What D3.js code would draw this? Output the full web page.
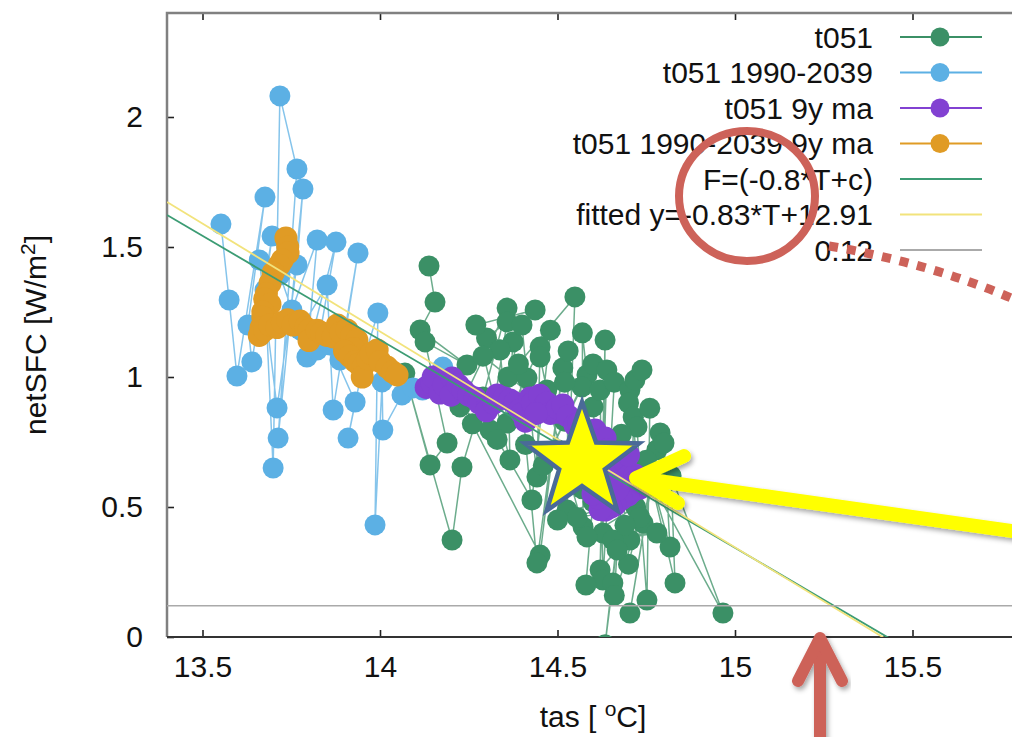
<!DOCTYPE html>
<html>
<head>
<meta charset="utf-8">
<script src="https://cdn.jsdelivr.net/npm/d3@7"></script>
<style>
  body { margin: 0; background: #fff; }
  svg { display: block; }
  text { font-family: "Liberation Sans", Arial, Helvetica, sans-serif; fill: #111; }
</style>
</head>
<body>
<svg id="chart" width="1012" height="737"></svg>
<script>
// t051 yearly values [tas, netSFC]
const t051 = [
  [14.138, 1.427], [14.155, 1.288], [14.113, 1.181], [14.245, 1.046], [14.127, 1.135],
  [14.189, 0.746], [14.141, 0.662], [14.07, 1.015], [14.203, 0.373], [14.231, 0.654],
  [14.29, 0.923], [14.358, 1.265], [14.225, 0.885], [14.31, 0.796], [14.358, 1.212],
  [14.3, 1.15], [14.375, 1.135], [14.358, 0.823], [14.338, 1.104], [14.437, 1.258],
  [14.27, 1.2], [14.366, 0.681], [14.361, 1.0], [14.4, 1.2], [14.414, 0.996],
  [14.442, 0.615], [14.451, 1.115], [14.33, 0.76], [14.428, 0.527], [14.48, 1.18],
  [14.451, 1.077], [14.47, 0.95], [14.26, 0.82], [14.451, 0.315], [14.515, 1.035],
  [14.442, 0.285], [14.39, 1.05], [14.549, 1.308], [14.527, 0.488], [14.53, 1.1],
  [14.47, 0.912], [14.572, 0.423], [14.57, 1.17], [14.583, 1.008], [14.46, 0.66],
  [14.569, 0.962], [14.6, 1.05], [14.6, 0.885], [14.628, 0.4], [14.634, 1.142],
  [14.62, 0.258], [14.639, 1.027], [14.52, 0.98], [14.62, 0.95], [14.628, 0.219],
  [14.66, 0.98], [14.704, 0.95], [14.656, 0.208], [14.634, -0.03], [14.718, 0.988],
  [14.704, 0.373], [14.7, 0.9], [14.738, 1.027], [14.713, 0.846], [14.752, 0.142],
  [14.76, 0.88], [14.724, 0.808], [14.741, 0.438], [14.789, 0.785], [14.704, 0.092],
  [14.78, 0.72], [14.8, 0.746], [14.817, 0.346], [14.75, 0.68], [14.831, 0.208],
  [14.82, 0.62], [14.966, 0.092], [14.77, 0.58], [14.555, 0.46], [14.72, 0.5],
  [14.583, 0.385], [14.78, 0.4], [14.656, 0.373], [14.7, 0.28], [14.732, 0.46],
  [14.66, 0.16], [14.668, 0.335], [14.58, 0.2], [14.6, 0.52], [14.5, 0.45],
  [14.55, 0.62], [14.41, 0.74], [14.5, 0.72], [14.57, 0.57], [14.62, 0.68],
  [14.63, 0.6], [14.68, 0.78], [14.69, 0.43], [14.52, 0.83], [14.29, 1.08]
];

// t051 1990-2039 yearly values
const t051Early = [
  [13.552, 1.588], [13.575, 1.296], [13.597, 1.004], [13.676, 1.692], [13.628, 1.2],
  [13.639, 1.058], [13.696, 1.542], [13.676, 1.335], [13.699, 0.65], [13.718, 2.081],
  [13.766, 1.8], [13.713, 0.765], [13.783, 1.723], [13.766, 1.431], [13.71, 0.881],
  [13.66, 1.45], [13.718, 1.392], [13.752, 1.258], [13.823, 1.527], [13.794, 1.077],
  [13.876, 1.519], [13.823, 1.104], [13.775, 1.181], [13.851, 1.354], [13.868, 0.873],
  [13.938, 1.477], [13.887, 1.065], [13.859, 1.123], [13.93, 0.904], [13.91, 0.765],
  [13.958, 1.085], [13.994, 1.246], [13.986, 0.431], [14.006, 0.981], [14.008, 0.796],
  [14.062, 0.931], [14.093, 0.958], [14.12, 0.95], [14.177, 1.038]
];

// 9-year moving averages
const t051Ma = [
  [14.13, 0.96], [14.146, 0.977], [14.15, 1.0], [14.169, 0.938], [14.18, 0.97],
  [14.203, 0.996], [14.2, 0.93], [14.22, 0.97], [14.234, 0.95], [14.25, 0.93],
  [14.268, 0.919], [14.28, 0.9], [14.304, 0.892], [14.3, 0.87], [14.32, 0.9],
  [14.33, 0.931], [14.35, 0.92], [14.366, 0.912], [14.38, 0.9], [14.394, 0.873],
  [14.4, 0.86], [14.41, 0.83], [14.423, 0.919], [14.43, 0.9], [14.45, 0.93],
  [14.465, 0.892], [14.47, 0.9], [14.48, 0.86], [14.493, 0.865], [14.5, 0.88],
  [14.515, 0.892], [14.53, 0.85], [14.549, 0.815], [14.56, 0.82], [14.577, 0.758],
  [14.58, 0.78], [14.606, 0.796], [14.6, 0.76], [14.62, 0.74], [14.634, 0.765],
  [14.64, 0.72], [14.654, 0.7], [14.66, 0.68], [14.68, 0.64], [14.69, 0.673],
  [14.7, 0.62], [14.718, 0.623], [14.72, 0.6], [14.732, 0.573], [14.71, 0.56],
  [14.699, 0.546], [14.68, 0.53], [14.662, 0.508], [14.65, 0.5], [14.634, 0.488],
  [14.62, 0.49], [14.614, 0.535], [14.6, 0.55], [14.592, 0.642], [14.563, 0.7],
  [14.64, 0.6], [14.67, 0.57], [14.61, 0.64], [14.7, 0.7], [14.44, 0.86]
];

const t051EarlyMa = [
  [13.735, 1.535], [13.74, 1.5], [13.741, 1.477], [13.725, 1.45], [13.716, 1.43],
  [13.699, 1.4], [13.69, 1.36], [13.68, 1.32], [13.675, 1.3], [13.69, 1.28],
  [13.67, 1.25], [13.67, 1.23], [13.665, 1.19], [13.66, 1.16], [13.675, 1.18],
  [13.69, 1.2], [13.71, 1.19], [13.725, 1.21], [13.74, 1.22], [13.755, 1.2],
  [13.775, 1.215], [13.79, 1.19], [13.8, 1.18], [13.8, 1.14], [13.823, 1.18],
  [13.835, 1.17], [13.85, 1.16], [13.868, 1.154], [13.88, 1.2], [13.89, 1.17],
  [13.907, 1.181], [13.92, 1.16], [13.935, 1.142], [13.925, 1.11], [13.9, 1.1],
  [13.915, 1.08], [13.93, 1.06], [13.94, 1.05], [13.952, 1.038], [13.95, 1.0],
  [13.965, 1.07], [13.975, 1.09], [13.992, 1.104], [14.0, 1.06], [14.02, 1.038],
  [14.035, 1.02], [14.048, 1.008]
];

// straight lines: [slope, intercept] as drawn
const lineF = [-0.8, 12.343];
const lineFit = [-0.83, 12.795];
const level = 0.12;

const xTicks = [13.5, 14, 14.5, 15, 15.5];
const yTicks = [0, 0.5, 1, 1.5, 2];

const legendLabels = [
  "t051", "t051 1990-2039", "t051 9y ma", "t051 1990-2039 9y ma",
  "F=(-0.8*T+c)", "fitted y=-0.83*T+12.91", "0.12"
];

const colors = {
  green: "#3b9066",
  blue: "#5cb0e4",
  purple: "#8241d2",
  orange: "#e09b25",
  fline: "#3c9c74",
  yline: "#f2e37c",
  gray: "#aaaaaa"
};

const svg = d3.select("#chart");
const pLeft = 167, pRight = 1019, pTop = 13, pBottom = 637;

const x = d3.scaleLinear().domain([13.4, 15.8]).range([pLeft, pRight]);
const y = d3.scaleLinear().domain([0, 2.4]).range([pBottom, pTop]);

const defs = svg.append("defs");
defs.append("clipPath").attr("id", "plotclip")
  .append("rect")
  .attr("x", pLeft).attr("y", pTop)
  .attr("width", pRight - pLeft).attr("height", pBottom - pTop);
const shadow = defs.append("filter").attr("id", "shadow")
  .attr("x", "-20%").attr("y", "-20%").attr("width", "140%").attr("height", "140%");
shadow.append("feDropShadow")
  .attr("dx", 2).attr("dy", 3).attr("stdDeviation", 2.5)
  .attr("flood-color", "#000").attr("flood-opacity", 0.35);

// axes
svg.append("g")
  .attr("transform", `translate(0,${pBottom})`)
  .call(d3.axisBottom(x).tickValues(xTicks).tickSize(-7).tickPadding(19).tickFormat(d3.format("")))
  .call((g) => g.select(".domain").remove())
  .call((g) => g.selectAll("text").attr("font-size", 30).attr("fill", "#111"));

svg.append("g")
  .attr("transform", `translate(${pLeft},0)`)
  .call(d3.axisLeft(y).tickValues(yTicks).tickSize(-7).tickPadding(24).tickFormat(d3.format("")))
  .call((g) => g.select(".domain").remove())
  .call((g) => g.selectAll("text").attr("font-size", 30).attr("fill", "#111"));

svg.append("g")
  .attr("transform", `translate(0,${pTop})`)
  .call(d3.axisTop(x).tickValues(xTicks).tickSize(-7).tickFormat(""))
  .call((g) => g.select(".domain").remove());

svg.append("g")
  .attr("transform", `translate(${pRight},0)`)
  .call(d3.axisRight(y).tickValues(yTicks).tickSize(-7).tickFormat(""))
  .call((g) => g.select(".domain").remove());

svg.selectAll(".tick line").attr("stroke", "#222").attr("stroke-width", 1.6);

// frame
svg.append("path")
  .attr("d", `M${pRight},${pTop}H${pLeft}V${pBottom}`)
  .attr("fill", "none").attr("stroke", "#808080").attr("stroke-width", 2.5);
svg.append("path")
  .attr("d", `M${pLeft},${pBottom}H${pRight}V${pTop}`)
  .attr("fill", "none").attr("stroke", "#333").attr("stroke-width", 2);

// axis titles
const xl = svg.append("text")
  .attr("x", (pLeft + pRight) / 2).attr("y", 727)
  .attr("text-anchor", "middle").attr("font-size", 30);
xl.append("tspan").text("tas [ ");
xl.append("tspan").attr("font-size", 21).attr("dy", -11).text("o");
xl.append("tspan").attr("dy", 11).text("C]");

const yl = svg.append("text")
  .attr("transform", `translate(46,${(pTop + pBottom) / 2 + 10}) rotate(-90)`)
  .attr("text-anchor", "middle").attr("font-size", 30);
yl.append("tspan").text("netSFC [W/m");
yl.append("tspan").attr("font-size", 21).attr("dy", -11).text("2");
yl.append("tspan").attr("dy", 11).text("]");

// data
const plot = svg.append("g").attr("clip-path", "url(#plotclip)");
const line = d3.line().x((d) => x(d[0])).y((d) => y(d[1]));

function series(data, color, r) {
  plot.append("path").datum(data)
    .attr("fill", "none").attr("stroke", color)
    .attr("stroke-opacity", 0.75).attr("stroke-width", 1.5)
    .attr("d", line);
  plot.append("g").selectAll("circle").data(data).join("circle")
    .attr("cx", (d) => x(d[0])).attr("cy", (d) => y(d[1]))
    .attr("r", r).attr("fill", color);
}

series(t051, colors.green, 10.5);
series(t051Early, colors.blue, 10.5);
series(t051Ma, colors.purple, 11.5);
series(t051EarlyMa, colors.orange, 11.5);

function straight(p, color, w) {
  const xs = x.domain();
  plot.append("path")
    .datum(xs.map((t) => [t, p[0] * t + p[1]]))
    .attr("fill", "none").attr("stroke", color).attr("stroke-width", w)
    .attr("d", line);
}
straight(lineF, colors.fline, 1.8);
straight(lineFit, colors.yline, 1.8);
straight([0, level], colors.gray, 1.5);

// legend
const legend = svg.append("g");
const legendStyles = [
  { c: colors.green, m: true }, { c: colors.blue, m: true },
  { c: colors.purple, m: true }, { c: colors.orange, m: true },
  { c: colors.fline, m: false }, { c: colors.yline, m: false },
  { c: colors.gray, m: false }
];
legendLabels.forEach((label, i) => {
  const cy = 37 + i * 35.5;
  legend.append("text")
    .attr("x", 873).attr("y", cy + 10.5)
    .attr("text-anchor", "end").attr("font-size", 30)
    .text(label);
  legend.append("line")
    .attr("x1", 900).attr("x2", 982).attr("y1", cy).attr("y2", cy)
    .attr("stroke", legendStyles[i].c).attr("stroke-width", 2);
  if (legendStyles[i].m) {
    legend.append("circle").attr("cx", 940).attr("cy", cy).attr("r", 9.5)
      .attr("fill", legendStyles[i].c);
  }
});

// annotations
const red = "#cd6259";
svg.append("ellipse")
  .attr("cx", 747).attr("cy", 196).attr("rx", 68).attr("ry", 65)
  .attr("fill", "none").attr("stroke", red).attr("stroke-width", 8);

svg.append("path")
  .attr("d", "M829,246 Q930,263 1016,300")
  .attr("fill", "none").attr("stroke", red)
  .attr("stroke-width", 9).attr("stroke-dasharray", "9 9");

const starPts = d3.range(10).map((i) => {
  const a = -Math.PI / 2 + i * Math.PI / 5;
  const r = i % 2 === 0 ? 60 : 24;
  return [582 + r * Math.cos(a), 462 + r * Math.sin(a)];
});
svg.append("path")
  .attr("d", "M" + starPts.join("L") + "Z")
  .attr("fill", "#ffff00").attr("stroke", "#4a6a98")
  .attr("stroke-width", 4.5).attr("stroke-linejoin", "miter");

const yArrow = svg.append("g").attr("filter", "url(#shadow)")
  .attr("stroke", "#ffff00").attr("stroke-width", 14)
  .attr("stroke-linecap", "round").attr("stroke-linejoin", "round").attr("fill", "none");
yArrow.append("path").attr("d", "M1040,535 L637,478");
yArrow.append("path").attr("d", "M684,456 L636,478 L678,503");

const rArrow = svg.append("g").attr("filter", "url(#shadow)")
  .attr("stroke", red).attr("stroke-width", 12)
  .attr("stroke-linecap", "round").attr("stroke-linejoin", "round").attr("fill", "none");
rArrow.append("path").attr("d", "M820,760 L820,640");
rArrow.append("path").attr("d", "M798,681 L820,638 L842,681");
</script>
</body>
</html>
